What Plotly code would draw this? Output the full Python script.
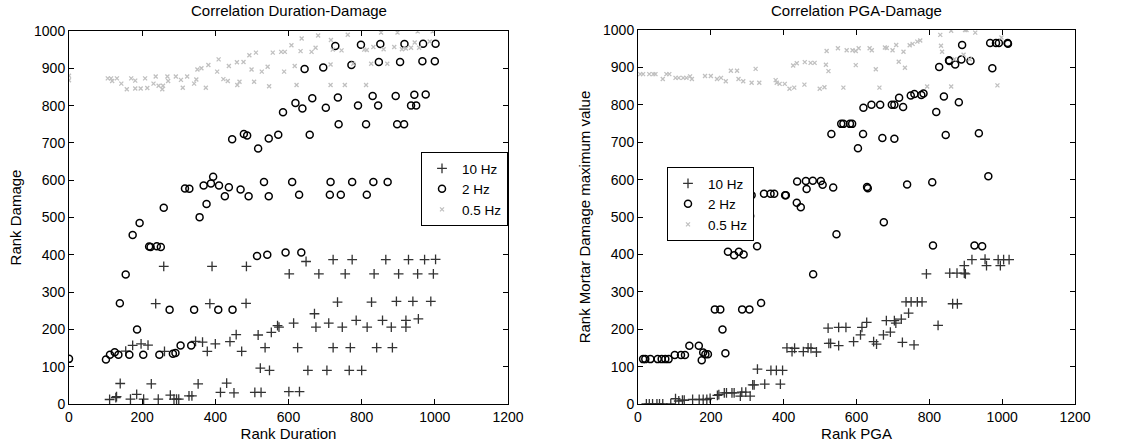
import plotly.graph_objects as go
from plotly.subplots import make_subplots

# ---------------- Left panel: Correlation Duration-Damage ----------------
dur_10hz_x = [111, 130, 128, 140, 168, 185, 204, 225, 244, 277, 287, 294, 300, 328, 336, 353,
              414, 431, 451, 508, 525, 601, 630, 523, 548, 653, 705, 766, 800,
              155, 174, 197, 216, 261, 346, 365, 378, 400, 440, 457, 472, 517, 536, 553, 570,
              574, 614, 625, 671, 675, 710, 722, 734, 747, 769, 785, 815, 827, 841, 857, 881,
              884, 895, 921, 921, 940, 955, 989, 237, 385, 484,
              259, 391, 485, 602, 648, 683, 722, 755, 774, 834, 866, 901, 928, 953, 972, 996, 1002]
dur_10hz_y = [12, 20, 17, 55, 13, 26, 13, 54, 13, 24, 13, 13, 13, 22, 22, 54,
              31, 56, 30, 31, 31, 33, 33, 96, 90, 90, 90, 90, 90,
              142, 157, 161, 158, 141, 168, 166, 141, 161, 167, 186, 141, 185, 151, 192, 210,
              206, 217, 151, 242, 206, 217, 151, 273, 206, 151, 224, 206, 273, 151, 224, 206,
              151, 275, 224, 206, 275, 228, 275, 269, 269, 270,
              369, 369, 369, 349, 382, 349, 387, 349, 387, 349, 387, 349, 387, 349, 387, 349, 388]

dur_2hz_x = [0, 101, 112, 125, 135, 165, 203, 247, 284, 291, 305, 334, 139, 186, 275, 342, 408, 447,
             155, 174, 193, 219, 223, 240, 251, 259, 317, 329, 357, 368, 376, 388, 394, 410, 426,
             437, 469, 491, 514, 533, 542, 546, 592, 610, 629, 635, 715, 713, 743, 774, 814, 832, 871,
             446, 478, 487, 517, 546, 572, 585, 619, 638, 644, 658, 665, 695, 702, 728, 735, 737,
             772, 790, 798, 812, 830, 845, 847, 851, 893, 897, 905, 916, 917, 935, 949, 944, 966,
             968, 975, 1000, 1002]
dur_2hz_y = [121, 119, 132, 139, 132, 132, 132, 132, 135, 137, 157, 157, 270, 200, 253, 253, 253, 253,
             347, 453, 485, 422, 421, 423, 421, 526, 578, 577, 501, 586, 536, 591, 609, 586, 557,
             581, 575, 557, 397, 595, 400, 557, 406, 595, 561, 406, 595, 561, 561, 595, 561, 595, 595,
             710, 724, 720, 685, 712, 722, 782, 807, 792, 898, 722, 820, 902, 794, 960, 822, 750,
             909, 800, 963, 750, 826, 800, 917, 965, 826, 750, 917, 750, 965, 800, 800, 829, 919,
             966, 830, 919, 966]

dur_05hz_x = [0, 0, 106, 115, 118, 131, 143, 158, 170, 181, 181, 196, 208, 214, 231, 237, 245, 255,
              257, 269, 271, 292, 306, 311, 323, 342, 348, 351, 362, 374, 381, 405, 409, 422, 434,
              437, 459, 477, 460, 466, 493, 499, 506, 511, 527, 543, 547, 557, 580, 590, 588, 608,
              617, 622, 633, 636, 663, 674, 681, 715, 715, 716, 721, 745, 754, 762, 777, 807, 814,
              812, 832, 826, 853, 860, 870, 889, 898, 910, 921, 935, 945, 953, 957, 986, 994]
dur_05hz_y = [880, 868, 873, 873, 866, 873, 859, 844, 873, 867, 846, 846, 873, 847, 859, 878, 853, 844,
              853, 878, 866, 878, 869, 848, 878, 859, 870, 897, 900, 848, 909, 891, 924, 871, 866,
              906, 916, 917, 855, 864, 935, 897, 864, 942, 891, 904, 852, 942, 944, 944, 891, 962,
              906, 855, 946, 980, 944, 955, 988, 910, 855, 976, 950, 948, 855, 990, 912, 950, 949,
              855, 957, 912, 996, 951, 912, 957, 996, 951, 953, 955, 969, 999, 955, 972, 999]

# ---------------- Right panel: Correlation PGA-Damage ----------------
pga_10hz_x = [23, 31, 40, 52, 59, 68, 90, 103, 112, 122, 127, 150, 168, 179, 189, 198, 218, 222,
              237, 243, 258, 264, 281, 285, 296, 308, 315, 319, 328, 348, 365, 380, 397, 391,
              409, 423, 430, 454, 467, 475, 490, 522, 524, 529, 551, 551, 571, 592, 611, 615, 628,
              647, 655, 674, 682, 704, 693, 708, 723, 726, 743, 736, 750, 758, 767, 780, 824, 864, 877,
              792, 856, 876, 896, 899, 896, 917, 953, 957, 989, 995, 1004, 1019]
pga_10hz_y = [0, 0, 0, 0, 0, 0, 0, 14, 8, 10, 10, 12, 12, 12, 12, 15, 23, 25,
              30, 30, 30, 30, 21, 32, 32, 21, 51, 51, 93, 53, 90, 90, 90, 53,
              150, 140, 149, 140, 150, 149, 139, 203, 162, 162, 156, 205, 205, 167, 185, 205, 218,
              167, 160, 185, 223, 223, 192, 216, 227, 165, 243, 273, 273, 158, 273, 273, 210, 268, 268,
              348, 350, 350, 350, 348, 370, 386, 387, 370, 386, 370, 386, 386]

pga_2hz_x = [14, 20, 34, 54, 65, 75, 84, 101, 118, 129, 141, 167, 175, 179, 185, 192, 211, 226, 232,
             240, 286, 306, 338,
             247, 264, 277, 290, 308, 312, 327, 346, 364, 374, 404, 406, 436, 437, 447, 461, 463,
             480, 502, 507, 481, 536, 545, 629, 631, 675, 739, 808, 810, 924, 945, 962,
             531, 558, 564, 582, 588, 604, 619, 618, 641, 665, 671, 697, 704, 704, 717, 728, 749,
             759, 778, 784, 819, 827, 840, 845, 854, 855, 871, 881, 888, 890, 913, 936, 967, 983,
             991, 973, 1015, 1016]
pga_2hz_y = [120, 120, 120, 120, 120, 120, 120, 131, 131, 131, 156, 156, 117, 138, 133, 133, 253, 253, 199,
             136, 253, 253, 270,
             407, 398, 407, 400, 503, 558, 422, 562, 562, 562, 558, 558, 538, 595, 526, 596, 575,
             597, 596, 586, 347, 579, 454, 580, 577, 486, 587, 593, 424, 424, 422, 609,
             722, 749, 749, 749, 749, 684, 792, 722, 800, 800, 711, 800, 800, 709, 819, 794, 825,
             829, 826, 830, 781, 901, 822, 719, 919, 917, 908, 807, 921, 960, 917, 724, 965, 965,
             965, 898, 965, 963]

pga_05hz_x = [6, 14, 31, 42, 48, 68, 78, 86, 103, 112, 124, 133, 143, 148, 184, 200, 217, 228, 241,
              255, 272, 276, 289, 312, 323, 333, 378, 381, 389, 403, 416, 429, 426, 436, 457, 458,
              474, 485, 499, 512, 516, 523, 518, 549, 564, 573, 589, 598, 606, 598, 636, 642, 653,
              663, 678, 683, 699, 709, 716, 729, 733, 746, 754, 767, 775, 794, 830, 832, 835, 860,
              860, 869, 894, 898, 902, 911, 926, 987, 998]
pga_05hz_y = [882, 882, 882, 882, 882, 869, 882, 882, 872, 872, 872, 872, 876, 869, 877, 877, 869, 872, 863,
              891, 891, 869, 863, 859, 896, 859, 866, 859, 856, 856, 843, 846, 905, 911, 854, 914,
              912, 912, 843, 847, 907, 890, 944, 951, 846, 946, 946, 944, 951, 906, 951, 946, 895,
              846, 953, 952, 946, 960, 915, 942, 899, 959, 963, 969, 972, 849, 987, 958, 942, 849,
              998, 922, 934, 1000, 1000, 922, 993, 852, 980]

series_names = ["10 Hz", "2 Hz", "0.5 Hz"]
x_ticks = [0, 200, 400, 600, 800, 1000, 1200]
y_ticks = [0, 100, 200, 300, 400, 500, 600, 700, 800, 900, 1000]

FONT = "Liberation Sans, Arial, sans-serif"
W, H = 1147, 448

fig = make_subplots(rows=1, cols=2, horizontal_spacing=0.1)

styles = [
    dict(symbol="cross-thin", size=7, color="#333333", line=dict(width=1.3, color="#333333")),
    dict(symbol="circle-open", size=7, color="#000000", line=dict(width=1.5, color="#000000")),
    dict(symbol="x-thin", size=4, color="#c0c0c0", line=dict(width=1.3, color="#c0c0c0")),
]

left_data = [(dur_10hz_x, dur_10hz_y), (dur_2hz_x, dur_2hz_y), (dur_05hz_x, dur_05hz_y)]
right_data = [(pga_10hz_x, pga_10hz_y), (pga_2hz_x, pga_2hz_y), (pga_05hz_x, pga_05hz_y)]

for name, (xs, ys), st in zip(series_names, left_data, styles):
    fig.add_trace(go.Scatter(x=xs, y=ys, mode="markers", name=name, marker=st,
                             legend="legend"), row=1, col=1)
for name, (xs, ys), st in zip(series_names, right_data, styles):
    fig.add_trace(go.Scatter(x=xs, y=ys, mode="markers", name=name, marker=st,
                             legend="legend2"), row=1, col=2)

def px_x(p):
    return p / W

def px_y(p):
    return 1 - p / H

axis_common = dict(showline=True, linecolor="black", linewidth=1, mirror="ticks",
                   ticks="inside", ticklen=5, tickcolor="black", showgrid=False,
                   zeroline=False, automargin=False,
                   tickfont=dict(family=FONT, size=14, color="black"))

fig.update_xaxes(range=[0, 1200], tickvals=x_ticks, **axis_common)
fig.update_yaxes(range=[0, 1000], tickvals=y_ticks, **axis_common)

TF = dict(family=FONT, size=15, color="black")
LF = dict(family=FONT, size=13.5, color="black")

fig.update_layout(
    xaxis=dict(domain=[px_x(69), px_x(508)],
               title=dict(text="Rank Duration", font=TF, standoff=0)),
    yaxis=dict(domain=[px_y(404), px_y(31)],
               title=dict(text="Rank Damage", font=TF, standoff=8)),
    xaxis2=dict(domain=[px_x(638), px_x(1075)],
                title=dict(text="Rank PGA", font=TF, standoff=0)),
    yaxis2=dict(domain=[px_y(404), px_y(30)],
                title=dict(text="Rank Mortar Damage maximum value", font=TF, standoff=8)),
    width=W, height=H,
    margin=dict(l=0, r=0, t=0, b=0),
    paper_bgcolor="white", plot_bgcolor="white",
    font=dict(family=FONT, size=14, color="black"),
    legend=dict(x=px_x(508), y=px_y(152), xanchor="right", yanchor="top",
                bordercolor="black", borderwidth=1, bgcolor="white",
                font=LF, itemwidth=30, tracegroupgap=0),
    legend2=dict(x=px_x(667), y=px_y(167), xanchor="left", yanchor="top",
                 bordercolor="black", borderwidth=1, bgcolor="white",
                 font=LF, itemwidth=30, tracegroupgap=0),
    annotations=[
        dict(text="Correlation Duration-Damage", x=(px_x(69) + px_x(508)) / 2, y=px_y(11),
             xref="paper", yref="paper", showarrow=False, xanchor="center", yanchor="middle",
             font=dict(family=FONT, size=15, color="black")),
        dict(text="Correlation PGA-Damage", x=(px_x(638) + px_x(1075)) / 2, y=px_y(10),
             xref="paper", yref="paper", showarrow=False, xanchor="center", yanchor="middle",
             font=dict(family=FONT, size=15, color="black")),
    ],
)

# remove the browser's default 8px page margin so the figure sits at the window corner
fig.write_html("out.html", config={"displayModeBar": False},
               post_script="document.body.style.margin='0';")
